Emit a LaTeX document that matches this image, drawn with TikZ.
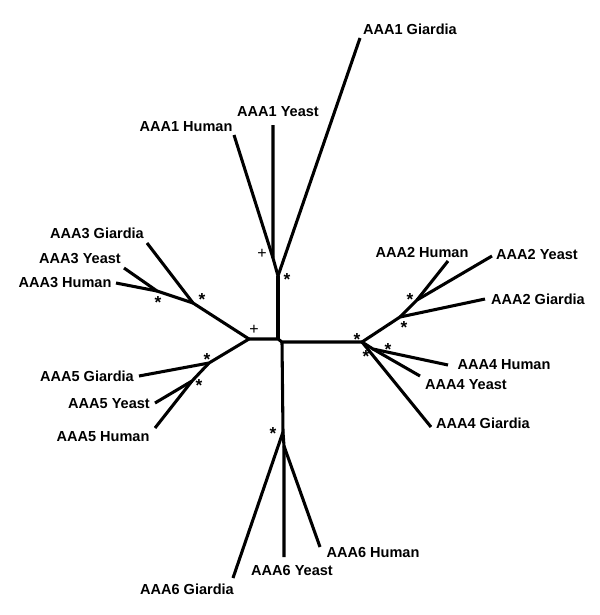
\documentclass[tikz,border=0pt]{standalone}
\usepackage{fontspec}
\setmainfont{Liberation Sans}
\usetikzlibrary{positioning}

\tikzset{
  lbl/.style={inner sep=0pt, font=\fontsize{10.9}{13}\selectfont\bfseries},
  br/.style={line width=2.3pt, line join=round},
  star/.style={inner sep=0pt, font=\fontsize{13}{13}\selectfont\bfseries},
  plus/.style={inner sep=0pt, font=\fontsize{12}{12}\selectfont}
}

\begin{document}
\begin{tikzpicture}[x=0.75pt, y=-0.75pt]

\useasboundingbox (0,0) rectangle (600,615);

% inner points of the tree
\coordinate (c1) at (278,339);
\coordinate (c2) at (282,342);
\coordinate (a1) at (278,276);
\coordinate (a1b) at (273,258);
\coordinate (l) at (249,339);
\coordinate (l3) at (193,303);
\coordinate (l3b) at (157,291);
\coordinate (l5) at (209,363);
\coordinate (l5b) at (192,381);
\coordinate (r) at (362,342);
\coordinate (r2) at (400,317);
\coordinate (r2b) at (417,300);
\coordinate (r4) at (373,349);
\coordinate (b) at (283,432);
\coordinate (b6) at (284,446);

% tips
\coordinate (a1g) at (360,38);
\coordinate (a1y) at (273,125);
\coordinate (a1h) at (234,135);
\coordinate (a3g) at (147,243);
\coordinate (a3y) at (124,268);
\coordinate (a3h) at (116,283);
\coordinate (a5g) at (139,376);
\coordinate (a5y) at (155,403);
\coordinate (a5h) at (155,428);
\coordinate (a2h) at (448,261);
\coordinate (a2y) at (492,256);
\coordinate (a2g) at (485,299);
\coordinate (a4h) at (448,365);
\coordinate (a4y) at (420,376);
\coordinate (a4g) at (431,427);
\coordinate (a6g) at (233,578);
\coordinate (a6y) at (284,557);
\coordinate (a6h) at (320,547);

% labels
\node[lbl] (n1g) at (410,29) {AAA1 Giardia};
\node[lbl] (n1y) at (278,112) {AAA1 Yeast};
\node[lbl] (n1h) at (186,127) {AAA1 Human};
\node[lbl] (n3g) at (97,233) {AAA3 Giardia};
\node[lbl] (n3y) at (80,259) {AAA3 Yeast};
\node[lbl] (n3h) at (65,283) {AAA3 Human};
\node[lbl] (n5g) at (87,376) {AAA5 Giardia};
\node[lbl] (n5y) at (109,404) {AAA5 Yeast};
\node[lbl] (n5h) at (103,437) {AAA5 Human};
\node[lbl] (n2h) at (422,252) {AAA2 Human};
\node[lbl] (n2y) at (537,254) {AAA2 Yeast};
\node[lbl] (n2g) at (538,299) {AAA2 Giardia};
\node[lbl] (n4h) at (504,365) {AAA4 Human};
\node[lbl] (n4y) at (466,385) {AAA4 Yeast};
\node[lbl] (n4g) at (483,423) {AAA4 Giardia};
\node[lbl] (n6h) at (373,552) {AAA6 Human};
\node[lbl] (n6y) at (292,570) {AAA6 Yeast};
\node[lbl] (n6g) at (187,589) {AAA6 Giardia};

% branches
\draw[br] (l) -- (c1) -- (c2) -- (r);
\draw[br] (c1) -- (a1);
\draw[br] (c2) -- (b);

\draw[br] (a1) -- (a1g);
\draw[br] (a1) -- (a1b) -- (a1y);
\draw[br] (a1b) -- (a1h);

\draw[br] (l) -- (l3) -- (a3g);
\draw[br] (l3) -- (l3b) -- (a3y);
\draw[br] (l3b) -- (a3h);

\draw[br] (l) -- (l5) -- (a5g);
\draw[br] (l5) -- (l5b) -- (a5y);
\draw[br] (l5b) -- (a5h);

\draw[br] (r) -- (r2) -- (a2g);
\draw[br] (r2) -- (r2b) -- (a2y);
\draw[br] (r2b) -- (a2h);

\draw[br] (r) -- (a4g);
\draw[br] (r) -- (r4) -- (a4h);
\draw[br] (r4) -- (a4y);

\draw[br] (b) -- (a6g);
\draw[br] (b) -- (b6) -- (a6y);
\draw[br] (b6) -- (a6h);

% support marks
\node[plus] (p1) at (262,254) {+};
\node[plus] (p2) at (254,330) {+};
\node[star] (s1) at (287,280) {*};
\node[star] (s2) at (202,300) {*};
\node[star] (s3) at (158,303) {*};
\node[star] (s4) at (207,360) {*};
\node[star] (s5) at (199,386) {*};
\node[star] (s6) at (410,300) {*};
\node[star] (s7) at (404,328) {*};
\node[star] (s8) at (357,340) {*};
\node[star] (s9) at (366,357) {*};
\node[star] (s10) at (388,350) {*};
\node[star] (s11) at (273,434) {*};

\end{tikzpicture}
\end{document}
